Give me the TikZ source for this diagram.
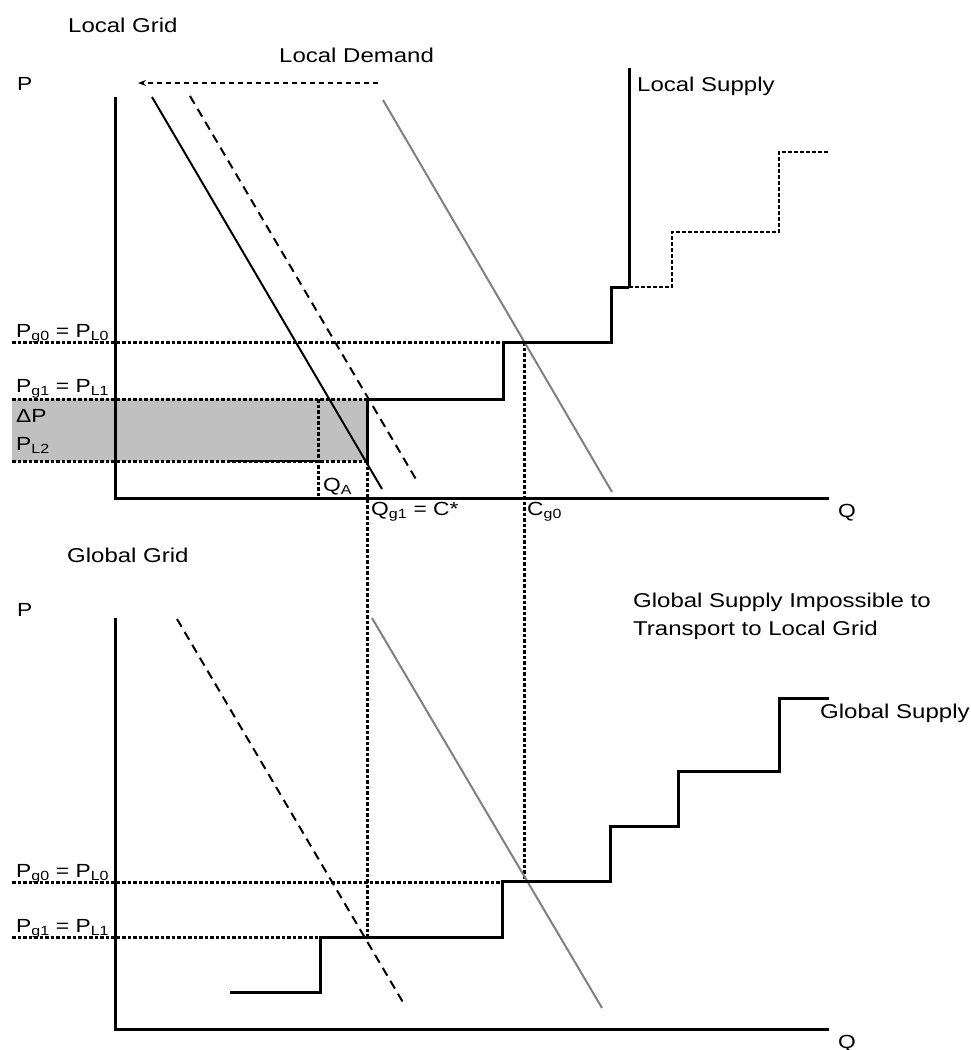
\documentclass[tikz,border=0pt]{standalone}
\usepackage{fontspec}
\setmainfont{Liberation Sans}[FakeStretch=1.2]
\usetikzlibrary{arrows.meta}
\definecolor{bandgray}{RGB}{192,192,192}
\definecolor{linegray}{RGB}{128,128,128}
\tikzset{
  axis/.style={line width=3pt, line join=miter},
  supply/.style={line width=3pt, line join=miter},
  dotline/.style={line width=3pt, dash pattern=on 3.5pt off 2pt},
  demand/.style={line width=2pt},
  demdash/.style={line width=2pt, dash pattern=on 9pt off 6pt},
  grayline/.style={line width=2pt, draw=linegray},
  thindash/.style={line width=1.4pt, dash pattern=on 4pt off 2pt},
  title/.style={anchor=base west, inner sep=0pt, font=\fontsize{20}{24}\selectfont},
  lab/.style={anchor=base west, inner sep=0pt, font=\fontsize{19}{23}\selectfont},
}
\begin{document}
\begin{tikzpicture}[x=1pt,y=-1pt]
\useasboundingbox (0,0) rectangle (970,1050);

% ---------- top panel: Local Grid ----------
\fill[bandgray] (12,399) rectangle (367,461);

\draw[dotline] (12,342) -- (503,342);
\draw[dotline] (12,399) -- (367,399);
\draw[dotline] (12,461) -- (367,461);
\draw[dotline] (318,399) -- (318,497);
\draw[dotline] (367,461) -- (367,937);
\draw[dotline] (524,342) -- (524,881);
\draw[line width=2.5pt] (230,461) -- (318,461);

\draw[axis] (115,97) -- (115,498) -- (829,498);

\draw[demand] (152,97) -- (382,489);
\draw[demdash] (190,96) -- (417,481);
\draw[grayline] (383,100) -- (612,492);

\draw[supply] (367,461) -- (367,399) -- (503,399) -- (503,342) -- (611,342) -- (611,287) -- (629,287);
\draw[supply] (629,288) -- (629,68);
\draw[thindash] (629,287) -- (672,287) -- (672,232) -- (779,232) -- (779,152) -- (829,152);

\draw[line width=1.3pt, dash pattern=on 5pt off 4pt, -{Stealth[length=8pt,width=6pt]}] (378,83) -- (138,83);

\node[title] (tLocalGrid) at (68,32) {Local Grid};
\node[title] (tLocalDemand) at (279,62) {Local Demand};
\node[title] (tLocalSupply) at (637,91) {Local Supply};
\node[lab] (tP1) at (17,90) {P};
\node[lab] (tPg0a) at (16,337) {P\textsubscript{g0} = P\textsubscript{L0}};
\node[lab] (tPg1a) at (16,392) {P\textsubscript{g1} = P\textsubscript{L1}};
\node[lab] (tDP) at (16,422) {ΔP};
\node[lab] (tPL2) at (16,450) {P\textsubscript{L2}};
\node[lab] (tQA) at (323,491) {Q\textsubscript{A}};
\node[lab] (tQg1) at (371,515) {Q\textsubscript{g1} = C*};
\node[lab] (tCg0) at (527,515) {C\textsubscript{g0}};
\node[lab] (tQ1) at (838,517) {Q};

% ---------- bottom panel: Global Grid ----------
\draw[dotline] (12,882) -- (502,882);
\draw[dotline] (12,937) -- (320,937);

\draw[axis] (115,618) -- (115,1029) -- (829,1029);

\draw[demdash] (177,619) -- (404,1004);
\draw[grayline] (372,618) -- (602,1008);

\draw[supply] (230,992) -- (320,992) -- (320,937) -- (502,937) -- (502,881) -- (610,881) -- (610,826) -- (678,826) -- (678,771) -- (779,771) -- (779,698) -- (829,698);

\node[title] (tGlobalGrid) at (67,562) {Global Grid};
\node[title] (tImp1) at (633,607) {Global Supply Impossible to};
\node[title] (tImp2) at (633,635) {Transport to Local Grid};
\node[title] (tGlobalSupply) at (820,718) {Global Supply};
\node[lab] (tP2) at (17,616) {P};
\node[lab] (tPg0b) at (16,877) {P\textsubscript{g0} = P\textsubscript{L0}};
\node[lab] (tPg1b) at (16,932) {P\textsubscript{g1} = P\textsubscript{L1}};
\node[lab] (tQ2) at (838,1048) {Q};
\end{tikzpicture}
\end{document}
